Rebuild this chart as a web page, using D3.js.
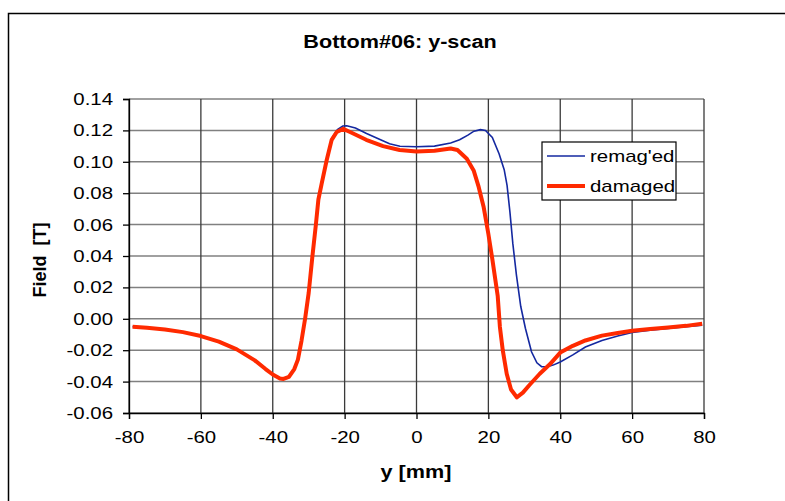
<!DOCTYPE html>
<html>
<head>
<meta charset="utf-8">
<script src="https://cdn.jsdelivr.net/npm/d3@7"></script>
<style>
  body { margin: 0; background: #fff; }
  text { font-family: "Liberation Sans", Arial, sans-serif; fill: #000; }
</style>
</head>
<body>
<script>
/* Bottom#06: y-scan -- field along y, two states of the magnet */

var yTicks = [-0.06, -0.04, -0.02, 0.00, 0.02, 0.04, 0.06, 0.08, 0.10, 0.12, 0.14];
var xTicks = [-80, -60, -40, -20, 0, 20, 40, 60, 80];

/* remag'ed (thin blue) */
var remagPos = [-79, -75, -70, -65, -60, -55, -50, -45, -42, -40, -38, -37, -35.5, -34, -33, -32, -31, -30, -29, -28, -27.3, -26.4, -25,
  -23.6, -22, -20.5, -19.4, -17, -13.9, -10, -7.5, -4.6, 0, 5, 9.5, 12, 14.3, 16, 17.8, 19.2, 21.1, 23, 24.4, 25.2, 26.0, 26.8,
  27.8, 29.0, 30.3, 32.0, 33.5, 34.8, 36.4, 38, 40, 43.5, 47, 51.6, 56, 60, 65, 70, 75, 79.5];
var remagField = [-0.0050, -0.0057, -0.0068, -0.0085, -0.0110, -0.0145, -0.0195, -0.0265, -0.0320, -0.0355, -0.0380, -0.0383, -0.0370,
  -0.0320, -0.0260, -0.0140, 0.0000, 0.0165, 0.0390, 0.0600, 0.0760, 0.0860, 0.1010,
  0.1150, 0.1205, 0.1228, 0.1230, 0.1215, 0.1180, 0.1140, 0.1115, 0.1099, 0.1096, 0.1100, 0.1120, 0.1140, 0.1170, 0.1195, 0.1205,
  0.1200, 0.1155, 0.1050, 0.0950, 0.0850, 0.0680, 0.0480, 0.0280, 0.0080, -0.0060, -0.0210, -0.0280, -0.0305, -0.0305, -0.0295,
  -0.0275, -0.0230, -0.0180, -0.0138, -0.0110, -0.0087, -0.0073, -0.0062, -0.0050, -0.0041];

/* damaged (thick red) */
var damagedPos = [-79, -75, -70, -65, -60, -55, -50, -45, -42, -40, -38, -37, -35.5, -34, -33, -32, -31, -30, -29, -28, -27.3, -26.4,
  -25, -23.6, -22.2, -20.4, -18.5, -14, -9.3, -4.7, 0, 5, 9.5, 11.4, 14, 15.9, 17.3, 18.7, 20, 21.1, 22.6, 23.2, 24, 25.1, 26.3,
  27.9, 29.6, 31.5, 34.3, 37.1, 40, 43.5, 47, 51.6, 56, 60, 65, 70, 75, 79.5];
var damagedField = [-0.0050, -0.0057, -0.0068, -0.0085, -0.0110, -0.0145, -0.0195, -0.0265, -0.0320, -0.0355, -0.0380, -0.0383,
  -0.0370, -0.0320, -0.0260, -0.0140, 0.0000, 0.0165, 0.0390, 0.0600, 0.0760, 0.0860, 0.1010, 0.1140, 0.1190, 0.1210, 0.1190,
  0.1140, 0.1100, 0.1075, 0.1065, 0.1070, 0.1085, 0.1075, 0.1020, 0.0945, 0.0840, 0.0710, 0.0540, 0.0380, 0.0145, -0.0050,
  -0.0200, -0.0350, -0.0450, -0.0500, -0.0470, -0.0420, -0.0350, -0.0290, -0.0215, -0.0172, -0.0138, -0.0107, -0.0090, -0.0076,
  -0.0065, -0.0056, -0.0045, -0.0031];

var seriesNames = ["remag'ed", "damaged"];

var W = 785, H = 501;
var plot = { left: 129, right: 704, top: 99, bottom: 413 };
var stretch = 1.2; /* the picture's text is a bit wider than plain Arial */

var svg = d3.select("body").append("svg")
    .attr("width", W)
    .attr("height", H);

/* outer chart frame */
svg.append("rect")
    .attr("x", 8.5).attr("y", 13.5)
    .attr("width", W + 10).attr("height", H + 10)
    .attr("fill", "none")
    .attr("stroke", "#000")
    .attr("stroke-width", 1.5);

var x = d3.scaleLinear().domain([-80, 80]).range([plot.left, plot.right]);
var y = d3.scaleLinear().domain([-0.06, 0.14]).range([plot.bottom, plot.top]);

function widen(sel) {
  sel.each(function () {
    var w = this.getComputedTextLength();
    d3.select(this).attr("textLength", w * stretch).attr("lengthAdjust", "spacingAndGlyphs");
  });
}

/* gridlines */
svg.append("g").selectAll("line").data(yTicks).enter().append("line")
    .attr("x1", plot.left).attr("x2", plot.right)
    .attr("y1", function (d) { return y(d); })
    .attr("y2", function (d) { return y(d); })
    .attr("stroke", "#808080")
    .attr("stroke-width", 1.5);
svg.append("g").selectAll("line").data(xTicks).enter().append("line")
    .attr("y1", plot.top).attr("y2", plot.bottom)
    .attr("x1", function (d) { return x(d); })
    .attr("x2", function (d) { return x(d); })
    .attr("stroke", "#3a3a3a")
    .attr("stroke-width", 1.3);

/* axes */
var yAxis = svg.append("g")
    .attr("transform", "translate(" + plot.left + ",0)")
    .call(d3.axisLeft(y).tickValues(yTicks).tickSize(6).tickPadding(10)
      .tickFormat(function (d) { return d.toFixed(2); }));
var xAxis = svg.append("g")
    .attr("transform", "translate(0," + plot.bottom + ")")
    .call(d3.axisBottom(x).tickValues(xTicks).tickSize(6).tickPadding(12)
      .tickFormat(function (d) { return String(d); }));

[yAxis, xAxis].forEach(function (ax) {
  ax.select(".domain").attr("stroke", "#000").attr("stroke-width", 1.3);
  ax.selectAll(".tick line").attr("stroke", "#000").attr("stroke-width", 1.3);
  ax.selectAll(".tick text")
      .style("font-family", "Liberation Sans, Arial, sans-serif")
      .style("font-size", "17px")
      .call(widen);
});

/* series */
var line = d3.line()
    .x(function (d) { return x(d[0]); })
    .y(function (d) { return y(d[1]); });

svg.append("path")
    .datum(d3.zip(remagPos, remagField))
    .attr("d", line)
    .attr("fill", "none")
    .attr("stroke", "#1428a0")
    .attr("stroke-width", 1.6);

svg.append("path")
    .datum(d3.zip(damagedPos, damagedField))
    .attr("d", line)
    .attr("fill", "none")
    .attr("stroke", "#ff2a00")
    .attr("stroke-width", 4)
    .attr("stroke-linejoin", "round");

/* titles */
svg.append("text")
    .attr("x", 400).attr("y", 48)
    .attr("text-anchor", "middle")
    .style("font-size", "18px")
    .style("font-weight", "bold")
    .text("Bottom#06: y-scan")
    .call(widen);

svg.append("text")
    .attr("x", 416).attr("y", 478)
    .attr("text-anchor", "middle")
    .style("font-size", "18px")
    .style("font-weight", "bold")
    .text("y [mm]")
    .call(widen);

svg.append("text")
    .attr("transform", "translate(46,260) rotate(-90)")
    .attr("text-anchor", "middle")
    .style("font-size", "18px")
    .style("font-weight", "bold")
    .style("white-space", "pre")
    .text("Field  [T]");

/* legend */
var legend = svg.append("g").attr("transform", "translate(542,142)");
legend.append("rect")
    .attr("width", 134).attr("height", 58)
    .attr("fill", "#fff")
    .attr("stroke", "#000")
    .attr("stroke-width", 1.2);
var items = legend.selectAll("g.item").data(seriesNames).enter().append("g")
    .attr("class", "item")
    .attr("transform", function (d, i) { return "translate(0," + (14 + i * 30) + ")"; });
items.append("line")
    .attr("x1", 5).attr("x2", 43)
    .attr("stroke", function (d, i) { return i === 0 ? "#1428a0" : "#ff2a00"; })
    .attr("stroke-width", function (d, i) { return i === 0 ? 1.6 : 4; });
items.append("text")
    .attr("x", 48).attr("y", 6)
    .style("font-size", "17px")
    .text(function (d) { return d; })
    .call(widen);
</script>
</body>
</html>
